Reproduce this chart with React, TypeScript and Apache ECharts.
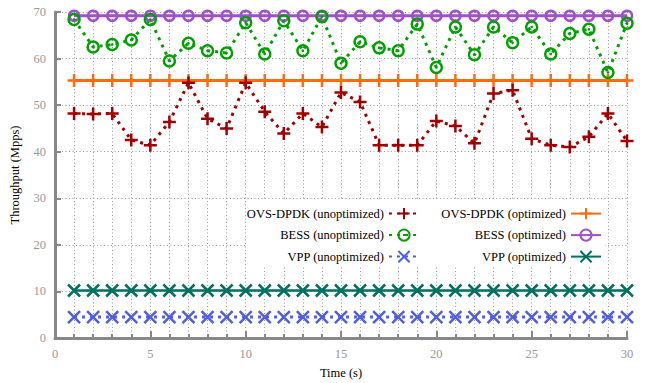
import React, { useEffect, useRef } from "react";
import * as echarts from "echarts";

const FONT = "Liberation Serif";

const times = [1, 2, 3, 4, 5, 6, 7, 8, 9, 10, 11, 12, 13, 14, 15, 16, 17, 18, 19, 20, 21, 22, 23, 24, 25, 26, 27, 28, 29, 30];

const ovsUnopt = [48.2, 48.1, 48.2, 42.5, 41.4, 46.4, 54.8, 47.1, 45.0, 54.8, 48.6, 43.9, 48.2, 45.3, 52.7, 50.7, 41.4, 41.4, 41.4, 46.6, 45.5, 41.8, 52.5, 53.2, 42.8, 41.4, 41.0, 43.2, 48.2, 42.3];
const ovsOpt = [55.3, 55.3, 55.3, 55.3, 55.3, 55.3, 55.3, 55.3, 55.3, 55.3, 55.3, 55.3, 55.3, 55.3, 55.3, 55.3, 55.3, 55.3, 55.3, 55.3, 55.3, 55.3, 55.3, 55.3, 55.3, 55.3, 55.3, 55.3, 55.3, 55.3];
const bessUnopt = [68.4, 62.5, 63.0, 64.0, 68.4, 59.5, 63.3, 61.7, 61.2, 67.7, 61.0, 68.1, 61.7, 69.0, 59.0, 63.6, 62.3, 61.7, 67.4, 58.1, 66.8, 60.8, 66.8, 63.4, 66.8, 61.0, 65.4, 66.3, 57.0, 67.6];
const bessOpt = [69.2, 69.2, 69.2, 69.2, 69.2, 69.2, 69.2, 69.2, 69.2, 69.2, 69.2, 69.2, 69.2, 69.2, 69.2, 69.2, 69.2, 69.2, 69.2, 69.2, 69.2, 69.2, 69.2, 69.2, 69.2, 69.2, 69.2, 69.2, 69.2, 69.2];
const vppUnopt = [4.5, 4.5, 4.5, 4.5, 4.5, 4.5, 4.5, 4.5, 4.5, 4.5, 4.5, 4.5, 4.5, 4.5, 4.5, 4.5, 4.5, 4.5, 4.5, 4.5, 4.5, 4.5, 4.5, 4.5, 4.5, 4.5, 4.5, 4.5, 4.5, 4.5];
const vppOpt = [10.2, 10.2, 10.2, 10.2, 10.2, 10.2, 10.2, 10.2, 10.2, 10.2, 10.2, 10.2, 10.2, 10.2, 10.2, 10.2, 10.2, 10.2, 10.2, 10.2, 10.2, 10.2, 10.2, 10.2, 10.2, 10.2, 10.2, 10.2, 10.2, 10.2];

const PLUS = "path://M0,-1L0,1M-1,0L1,0";
const CROSS = "path://M-1,-1L1,1M-1,1L1,-1";
const CIRCLE_DOT = "path://M-1,0A1,1 0 1,1 1,0A1,1 0 1,1 -1,0ZM-0.15,0L0.15,0M0,-0.15L0,0.15";

const pairs = (vals: number[]) => times.map((t, i) => [t, vals[i]]);

function mkSeries(name: string, vals: number[], color: string, symbol: string, size: number, dotted: boolean, lw: number) {
  return {
    name,
    type: "line",
    data: pairs(vals),
    symbol,
    symbolSize: size,
    showSymbol: true,
    color,
    lineStyle: { color, width: lw, type: dotted ? [3, 5] : "solid" },
    itemStyle: { color: "rgba(0,0,0,0)", borderColor: color, borderWidth: 2.5 },
    emphasis: { disabled: true },
  };
}

const legendCommon = {
  orient: "horizontal",
  align: "right",
  itemWidth: 30,
  itemHeight: 14,
  padding: 0,
  selectedMode: false,
  textStyle: { fontFamily: FONT, fontSize: 12.5, color: "#000" },
};

const gridLine = { show: true, lineStyle: { color: "#999", width: 1, type: [1, 2.5] } };

export default function App() {
  const ref = useRef<HTMLDivElement>(null);
  useEffect(() => {
    const chart = echarts.init(ref.current!, null, { renderer: "svg" });
    chart.setOption({
      animation: false,
      backgroundColor: "#fff",
      textStyle: { fontFamily: FONT },
      grid: { left: 55, right: 19, top: 12, bottom: 45, containLabel: false, outerBoundsMode: "none" },
      graphic: [
        { type: "rect", left: 247, top: 199, shape: { width: 358, height: 66 }, style: { fill: "#fff" }, z: 1, silent: true },
      ],
      legend: [
        { ...legendCommon, data: ["OVS-DPDK (unoptimized)"], right: 226, top: 207 },
        { ...legendCommon, data: ["BESS (unoptimized)"], right: 226, top: 228.5 },
        { ...legendCommon, data: ["VPP (unoptimized)"], right: 226, top: 250 },
        { ...legendCommon, data: ["OVS-DPDK (optimized)"], right: 44, top: 207 },
        { ...legendCommon, data: ["BESS (optimized)"], right: 44, top: 228.5 },
        { ...legendCommon, data: ["VPP (optimized)"], right: 44, top: 250 },
      ],
      xAxis: {
        type: "value",
        min: 0,
        max: 30,
        interval: 5,
        axisLine: { show: true, onZero: false, lineStyle: { color: "#888", width: 3 } },
        axisTick: { show: true, inside: true, length: 7, lineStyle: { color: "#888", width: 2 } },
        minorTick: { show: true, splitNumber: 5, length: 4, lineStyle: { color: "#888", width: 2 } },
        axisLabel: { color: "#999", fontFamily: FONT, fontSize: 12.5, margin: 9 },
        splitLine: gridLine,
        minorSplitLine: gridLine,
        name: "Time (s)",
        nameLocation: "middle",
        nameGap: 28,
        nameTextStyle: { color: "#000", fontFamily: FONT, fontSize: 12.5 },
      },
      yAxis: {
        type: "value",
        min: 0,
        max: 70,
        interval: 10,
        axisLine: { show: true, onZero: false, lineStyle: { color: "#888", width: 3 } },
        axisTick: { show: true, inside: true, length: 6, lineStyle: { color: "#888", width: 2 } },
        axisLabel: { color: "#999", fontFamily: FONT, fontSize: 12.5, margin: 9 },
        splitLine: gridLine,
        name: "Throughput (Mpps)",
        nameLocation: "middle",
        nameGap: 34,
        nameRotate: 90,
        nameTextStyle: { color: "#000", fontFamily: FONT, fontSize: 12.5 },
      },
      series: [
        mkSeries("OVS-DPDK (optimized)", ovsOpt, "#ff6a13", PLUS, 13, false, 3),
        mkSeries("BESS (optimized)", bessOpt, "#a050cc", "circle", 10, false, 3),
        mkSeries("VPP (optimized)", vppOpt, "#00705f", CROSS, 12, false, 2.5),
        mkSeries("OVS-DPDK (unoptimized)", ovsUnopt, "#a00000", PLUS, 13, true, 3),
        mkSeries("BESS (unoptimized)", bessUnopt, "#00a000", CIRCLE_DOT, 11, true, 3),
        mkSeries("VPP (unoptimized)", vppUnopt, "#4f5fdf", CROSS, 12, true, 3),
      ],
    });
    return () => chart.dispose();
  }, []);
  return <div ref={ref} style={{ position: "fixed", left: 0, top: 0, width: 646, height: 383 }} />;
}
